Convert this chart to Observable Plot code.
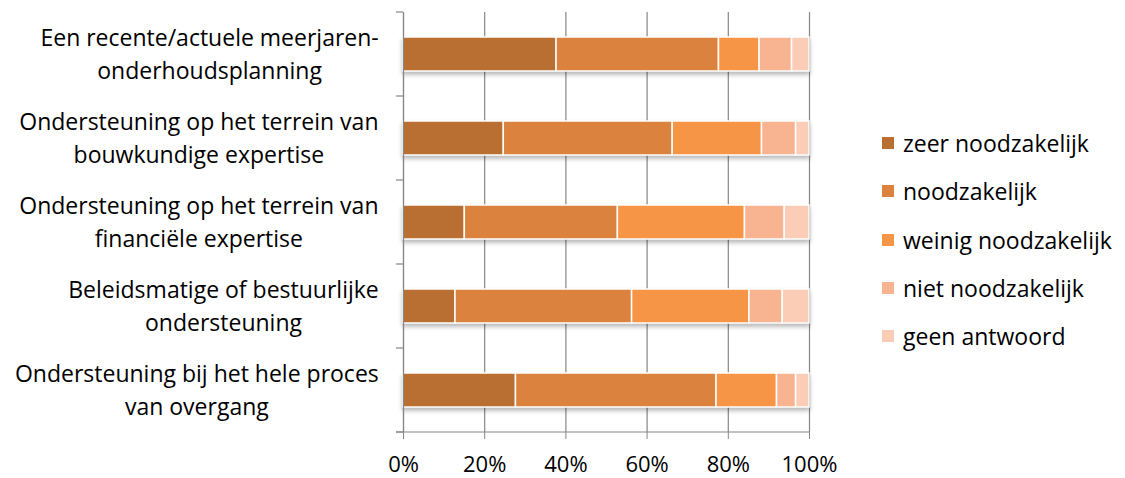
<!DOCTYPE html>
<html><head><meta charset="utf-8">
<script src="https://cdn.jsdelivr.net/npm/d3@7"></script>
<script src="https://cdn.jsdelivr.net/npm/@observablehq/plot@0.6"></script>
<style>
body{margin:0;background:#fff;font-family:"Open Sans", sans-serif}
#wrap{position:relative;width:1125px;height:478px}
#legend{position:absolute;left:882px;top:119px}
.item{display:flex;align-items:center;height:48.25px;font-size:23px;color:#000;white-space:nowrap}
.sw{width:12px;height:12px;margin-right:9px}
</style></head>
<body><div id="wrap"><div id="chart"></div><div id="legend"></div></div>
<script>
const categories = [
  "Een recente/actuele meerjaren-\nonderhoudsplanning",
  "Ondersteuning op het terrein van\nbouwkundige expertise",
  "Ondersteuning op het terrein van\nfinanciële expertise",
  "Beleidsmatige of bestuurlijke\nondersteuning",
  "Ondersteuning bij het hele proces\nvan overgang"
];
const series = ["zeer noodzakelijk", "noodzakelijk", "weinig noodzakelijk", "niet noodzakelijk", "geen antwoord"];
const colors = ["#B96F32", "#DA823E", "#F69546", "#F8B490", "#FBCCB6"];
const zeerNoodzakelijk   = [37.7, 24.7, 15.1, 12.8, 27.7];
const noodzakelijk       = [40.0, 41.6, 37.7, 43.5, 49.4];
const weinigNoodzakelijk = [10.0, 22.0, 31.3, 28.9, 14.9];
const nietNoodzakelijk   = [8.0, 8.4, 9.8, 8.2, 4.7];
const geenAntwoord       = [4.3, 3.3, 6.1, 6.6, 3.3];
const xTicks = [0, 20, 40, 60, 80, 100];

const values = [zeerNoodzakelijk, noodzakelijk, weinigNoodzakelijk, nietNoodzakelijk, geenAntwoord];
const data = [];
series.forEach((s, si) => categories.forEach((c, ci) => data.push({cat: c, series: s, value: values[si][ci]})));

const W = 1125, H = 478;
const plot = Plot.plot({
  width: W, height: H,
  marginLeft: 403, marginRight: 316, marginTop: 12, marginBottom: 46,
  style: {fontFamily: "'Open Sans', sans-serif", fontSize: "22px", color: "#000", background: "#fff"},
  x: {domain: [0, 100], ticks: xTicks, tickFormat: d => d + "%"},
  y: {domain: categories, paddingInner: 0.6, paddingOuter: 0.3},
  color: {domain: series, range: colors},
  marks: [
    Plot.gridX(xTicks, {stroke: "#868686", strokeOpacity: 1, strokeWidth: 1.2}),
    Plot.barX(data, Plot.stackX({x: "value", y: "cat", fill: "series", order: series, stroke: "#fff", strokeWidth: 1.5})),
    Plot.ruleX([0], {stroke: "#868686", strokeWidth: 1.2}),
    Plot.axisX(xTicks, {tickSize: 7, tickPadding: 17, stroke: "#868686", fontSize: 22, tickFormat: d => d + "%", label: null}),
    Plot.axisY({tickSize: 0, tickPadding: 25, fontSize: 23, lineHeight: 1.45, dy: -3, label: null})
  ]
});
document.getElementById("chart").appendChild(plot);

// shadow under bars
d3.select(plot).selectAll("g[aria-label='bar']").style("filter", "drop-shadow(0px 3px 2px rgba(0,0,0,0.28))");

// center the lines of each category label within its right-aligned block
d3.select(plot).selectAll("g[aria-label='y-axis tick label'] text").each(function() {
  const bb = this.getBBox();
  const cx = bb.x + bb.width / 2;
  d3.select(this).attr("text-anchor", "middle");
  d3.select(this).selectAll("tspan").attr("x", cx);
});

// Excel-style category boundary ticks and bottom axis line, from the library's scales
const ys = plot.scale("y"), xs = plot.scale("x");
const x0 = xs.apply(0), x1 = xs.apply(100);
const gap = (ys.step - ys.bandwidth) / 2;
const bounds = categories.map(c => ys.apply(c) - gap);
bounds.push(ys.apply(categories[categories.length - 1]) + ys.bandwidth + gap);
const svg = d3.select(plot);
const g = svg.append("g").attr("stroke", "#868686").attr("stroke-width", 1.2);
bounds.forEach(b => g.append("line").attr("x1", x0 - 7).attr("x2", x0).attr("y1", b).attr("y2", b));
const yb = bounds[bounds.length - 1];
g.append("line").attr("x1", x0 - 7).attr("x2", x1).attr("y1", yb).attr("y2", yb);

// legend
const lg = d3.select("#legend");
series.forEach((s, i) => {
  const it = lg.append("div").attr("class", "item");
  it.append("div").attr("class", "sw").style("background", colors[i]);
  it.append("span").text(s);
});
</script>
</body></html>
